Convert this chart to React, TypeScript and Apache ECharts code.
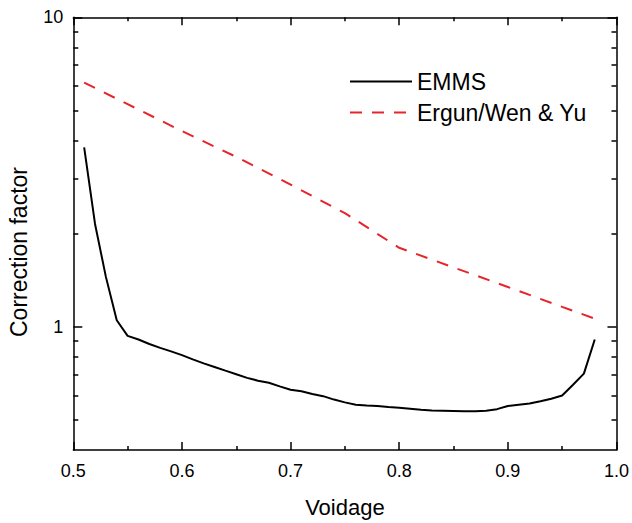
import React, { useEffect, useRef } from "react";
import * as echarts from "echarts";

const emmsVoidage = [0.51, 0.52, 0.53, 0.54, 0.55, 0.56, 0.57, 0.58, 0.59, 0.6, 0.61, 0.62, 0.63, 0.64, 0.65, 0.66, 0.67, 0.68, 0.69, 0.7, 0.71, 0.72, 0.73, 0.74, 0.75, 0.76, 0.77, 0.78, 0.79, 0.8, 0.81, 0.82, 0.83, 0.84, 0.85, 0.86, 0.87, 0.88, 0.89, 0.9, 0.91, 0.92, 0.93, 0.94, 0.95, 0.96, 0.97, 0.98];
const emmsFactor = [3.8, 2.15, 1.45, 1.05, 0.935, 0.91, 0.88, 0.855, 0.833, 0.81, 0.785, 0.762, 0.742, 0.722, 0.703, 0.684, 0.67, 0.66, 0.642, 0.626, 0.619, 0.607, 0.597, 0.582, 0.57, 0.56, 0.557, 0.555, 0.551, 0.548, 0.544, 0.54, 0.537, 0.536, 0.535, 0.534, 0.534, 0.536, 0.542, 0.555, 0.56, 0.565, 0.575, 0.586, 0.6, 0.65, 0.706, 0.91];

const ergunVoidage = [0.51, 0.55, 0.6, 0.65, 0.7, 0.75, 0.8, 0.85, 0.9, 0.95, 0.98];
const ergunFactor = [6.15, 5.24, 4.29, 3.54, 2.88, 2.33, 1.8, 1.556, 1.345, 1.16, 1.063];

const yMajorTicks = [1, 10];
const yMinorTicks = [0.5, 0.6, 0.7, 0.8, 0.9, 2, 3, 4, 5, 6, 7, 8, 9];

const FONT = "'Liberation Sans', Arial, Helvetica, sans-serif";

export default function App() {
  const ref = useRef<HTMLDivElement>(null);
  useEffect(() => {
    if (!ref.current) return;
    const chart = echarts.init(ref.current, null, { renderer: "svg" });
    const axisLine = { show: true, lineStyle: { color: "#000", width: 1.5 } };
    const baseY = {
      type: "log" as const,
      logBase: 10,
      min: 0.4,
      max: 10,
      gridIndex: 0,
      splitLine: { show: false },
      minorTick: { show: false },
    };
    const baseX = {
      type: "value" as const,
      min: 0.5,
      max: 1.0,
      interval: 0.1,
      gridIndex: 0,
      splitLine: { show: false },
      axisLine,
      axisTick: { inside: true, length: 8, lineStyle: { color: "#000", width: 1.5 } },
      minorTick: { show: true, splitNumber: 2, length: 4, lineStyle: { color: "#000", width: 1.5 } },
    };
    chart.setOption({
      animation: false,
      backgroundColor: "#fff",
      grid: { left: 73.3, right: 12, top: 17.3, bottom: 69.7, containLabel: false },
      legend: {
        orient: "vertical",
        left: 344,
        top: 65,
        itemWidth: 62,
        itemHeight: 20,
        itemGap: 8,
        itemStyle: { opacity: 0, borderWidth: 0 },
        textStyle: { fontFamily: FONT, fontSize: 23, color: "#000" },
        data: ["EMMS", "Ergun/Wen & Yu"],
      },
      graphic: [
        {
          type: "text",
          x: 19,
          y: 252,
          rotation: Math.PI / 2,
          style: {
            text: "Correction factor",
            fontFamily: FONT,
            fontSize: 23,
            fill: "#000",
            align: "center",
            verticalAlign: "middle",
          },
        },
      ],
      xAxis: [
        {
          ...baseX,
          position: "bottom",
          name: "Voidage",
          nameLocation: "middle",
          nameGap: 46,
          nameTextStyle: { fontFamily: FONT, fontSize: 22, color: "#000" },
          axisLabel: {
            margin: 12,
            fontFamily: FONT,
            fontSize: 18,
            color: "#000",
            formatter: (v: number) => v.toFixed(1),
          },
        },
        {
          ...baseX,
          position: "top",
          axisLabel: { show: false },
        },
      ],
      yAxis: [
        {
          ...baseY,
          position: "left",
          axisLine,
          axisTick: { inside: true, length: 9, customValues: yMajorTicks, lineStyle: { color: "#000", width: 1.5 } },
          axisLabel: {
            customValues: yMajorTicks,
            margin: 10,
            fontFamily: FONT,
            fontSize: 18,
            color: "#000",
            formatter: (v: number) => String(Math.round(v)),
          },
        },
        {
          ...baseY,
          position: "left",
          axisLine: { show: false },
          axisTick: { inside: true, length: 5, customValues: yMinorTicks, lineStyle: { color: "#000", width: 1.5 } },
          axisLabel: { show: false },
        },
        {
          ...baseY,
          position: "right",
          axisLine,
          axisTick: { inside: true, length: 9, customValues: yMajorTicks, lineStyle: { color: "#000", width: 1.5 } },
          axisLabel: { show: false },
        },
        {
          ...baseY,
          position: "right",
          axisLine: { show: false },
          axisTick: { inside: true, length: 5, customValues: yMinorTicks, lineStyle: { color: "#000", width: 1.5 } },
          axisLabel: { show: false },
        },
      ],
      series: [
        {
          name: "EMMS",
          type: "line",
          xAxisIndex: 0,
          yAxisIndex: 0,
          symbol: "none",
          lineStyle: { color: "#000", width: 2 },
          itemStyle: { color: "#000" },
          data: emmsVoidage.map((v, i) => [v, emmsFactor[i]]),
        },
        {
          name: "Ergun/Wen & Yu",
          type: "line",
          xAxisIndex: 0,
          yAxisIndex: 0,
          symbol: "none",
          lineStyle: { color: "#e6242c", width: 2, type: [12, 10] },
          itemStyle: { color: "#e6242c" },
          data: ergunVoidage.map((v, i) => [v, ergunFactor[i]]),
        },
      ],
    });
    return () => chart.dispose();
  }, []);
  return <div ref={ref} style={{ width: 632, height: 523, position: "absolute", left: 0, top: 0 }} />;
}
